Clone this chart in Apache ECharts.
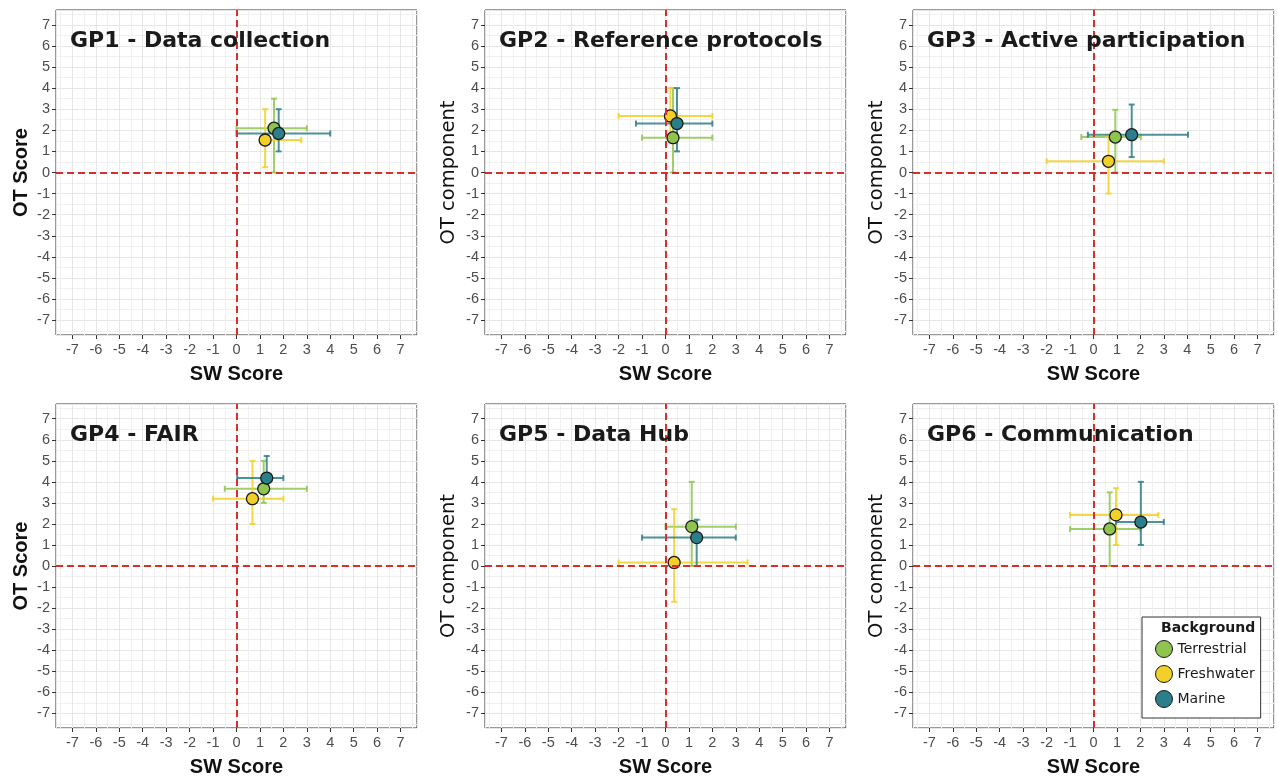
<!DOCTYPE html>
<html>
<head>
<meta charset="utf-8">
<script src="https://cdn.jsdelivr.net/npm/echarts@6/dist/echarts.min.js"></script>
<style>
  html, body { margin: 0; padding: 0; background: #fff; }
  #chart { width: 1278px; height: 778px; }
</style>
</head>
<body>
<div id="chart"></div>
<script>
var groups = ['Terrestrial', 'Freshwater', 'Marine'];
var groupColors = ['#8fc54f', '#f2d027', '#2b7f8a'];

var panelTitles = ['GP1 - Data collection', 'GP2 - Reference protocols', 'GP3 - Active participation',
                   'GP4 - FAIR', 'GP5 - Data Hub', 'GP6 - Communication'];
var yTitles = ['OT Score', 'OT component', 'OT component', 'OT Score', 'OT component', 'OT component'];
var xTitle = 'SW Score';

var tickValues = [-7, -6, -5, -4, -3, -2, -1, 0, 1, 2, 3, 4, 5, 6, 7];

// per panel, per group (Terrestrial, Freshwater, Marine): [x, y, xLow, xHigh, yLow, yHigh]
var gp1 = [[1.60, 2.10, 0.00, 3.00, 0.00, 3.50], [1.22, 1.54, 1.10, 2.76, 0.25, 3.00], [1.80, 1.85, 0.00, 4.00, 1.00, 3.00]];
var gp2 = [[0.32, 1.65, -1.00, 2.00, 0.00, 4.00], [0.21, 2.68, -2.00, 2.00, 1.70, 4.00], [0.49, 2.32, -1.26, 2.00, 1.00, 4.00]];
var gp3 = [[0.93, 1.68, -0.52, 2.02, 0.00, 2.97], [0.64, 0.53, -2.00, 3.00, -1.00, 1.70], [1.63, 1.79, -0.24, 4.03, 0.73, 3.22]];
var gp4 = [[1.16, 3.67, -0.50, 3.00, 3.00, 5.00], [0.68, 3.20, -1.00, 2.00, 2.00, 5.00], [1.29, 4.18, 0.03, 2.00, 3.70, 5.23]];
var gp5 = [[1.12, 1.87, 0.00, 3.00, 0.00, 4.00], [0.37, 0.17, -2.00, 3.50, -1.70, 2.70], [1.33, 1.35, -1.00, 3.00, 0.00, 2.20]];
var gp6 = [[0.69, 1.76, -1.00, 2.00, 0.00, 3.50], [0.96, 2.43, -1.00, 2.77, 1.00, 3.70], [2.02, 2.09, 0.96, 3.00, 1.00, 4.00]];
var panelData = [gp1, gp2, gp3, gp4, gp5, gp6];

var myChart = echarts.init(document.getElementById('chart'));

var gridLefts = [56, 485, 913];
var gridTops = [10, 404];
var gridW = 361, gridH = 325;

// cross-shaped error bars with small caps
function renderErrorBar(params, api) {
    var x = api.value(0), y = api.value(1);
    var xl = api.coord([api.value(2), y]);
    var xh = api.coord([api.value(3), y]);
    var yl = api.coord([x, api.value(4)]);
    var yh = api.coord([x, api.value(5)]);
    var cap = 3;
    var color = api.visual('color');
    function seg(x1, y1, x2, y2) {
        return { type: 'line', shape: { x1: x1, y1: y1, x2: x2, y2: y2 },
                 style: { stroke: color, lineWidth: 2, opacity: 0.85 } };
    }
    return {
        type: 'group',
        children: [
            seg(xl[0], xl[1], xh[0], xh[1]),
            seg(xl[0], xl[1] - cap, xl[0], xl[1] + cap),
            seg(xh[0], xh[1] - cap, xh[0], xh[1] + cap),
            seg(yl[0], yl[1], yh[0], yh[1]),
            seg(yl[0] - cap, yl[1], yl[0] + cap, yl[1]),
            seg(yh[0] - cap, yh[1], yh[0] + cap, yh[1])
        ]
    };
}

function tickFormatter(v) {
    return tickValues.indexOf(v) >= 0 ? String(v) : '';
}

function valueAxis(i, isX) {
    var ax = {
        type: 'value',
        gridIndex: i,
        min: -7.7,
        max: 7.7,
        splitNumber: 15,
        axisLine: { show: false, onZero: false },
        axisTick: { show: true, length: 4, lineStyle: { color: '#333', width: 1 } },
        axisLabel: {
            formatter: tickFormatter,
            showMinLabel: false,
            showMaxLabel: false,
            color: '#4d4d4d',
            fontFamily: 'Liberation Sans',
            fontSize: 14.5,
            margin: isX ? 7 : 6
        },
        splitLine: { show: true, lineStyle: { color: '#e6e6e6', width: 1 } },
        minorTick: { show: false, splitNumber: 2 },
        minorSplitLine: { show: true, lineStyle: { color: '#f0f0f0', width: 1 } },
        nameLocation: 'middle'
    };
    if (isX) {
        ax.name = xTitle;
        ax.nameGap = 29;
        ax.nameTextStyle = { fontFamily: 'Liberation Sans', fontWeight: 'bold', fontSize: 20, color: '#111' };
    } else {
        ax.name = yTitles[i];
        var bold = yTitles[i] === 'OT Score';
        ax.nameGap = bold ? 25 : 26;
        ax.nameTextStyle = bold
            ? { fontFamily: 'Liberation Sans', fontWeight: 'bold', fontSize: 20, color: '#111' }
            : { fontFamily: 'DejaVu Sans', fontWeight: 'normal', fontSize: 19.5, color: '#111' };
    }
    return ax;
}

var grids = [], xAxes = [], yAxes = [], titles = [], series = [];

for (var i = 0; i < 6; i++) {
    var gLeft = gridLefts[i % 3];
    var gTop = gridTops[Math.floor(i / 3)];
    grids.push({ left: gLeft, top: gTop, width: gridW, height: gridH, show: true,
                 borderColor: '#333', borderWidth: 1, backgroundColor: '#fff' });
    xAxes.push(valueAxis(i, true));
    yAxes.push(valueAxis(i, false));
    titles.push({
        text: panelTitles[i],
        left: gLeft + 14,
        top: gTop + 19,
        padding: 0,
        textStyle: { fontFamily: 'DejaVu Sans', fontWeight: 'bold', fontSize: 22, lineHeight: 24, color: '#1a1a1a' }
    });

    // dashed zero lines
    series.push({
        type: 'line',
        name: 'zero' + i,
        xAxisIndex: i,
        yAxisIndex: i,
        data: [],
        z: 2,
        markLine: {
            silent: true,
            symbol: 'none',
            label: { show: false },
            lineStyle: { color: '#d62f2c', width: 2, type: [7, 4] },
            data: [{ xAxis: 0 }, { yAxis: 0 }]
        }
    });

    for (var g = 0; g < groups.length; g++) {
        series.push({
            type: 'custom',
            name: groups[g] + ' error ' + i,
            xAxisIndex: i,
            yAxisIndex: i,
            renderItem: renderErrorBar,
            itemStyle: { color: groupColors[g] },
            encode: { x: [0, 2, 3], y: [1, 4, 5] },
            data: [panelData[i][g]],
            z: 3,
            silent: true
        });
    }
    for (var g2 = 0; g2 < groups.length; g2++) {
        series.push({
            type: 'scatter',
            name: groups[g2],
            xAxisIndex: i,
            yAxisIndex: i,
            symbol: 'circle',
            symbolSize: 12,
            itemStyle: { color: groupColors[g2], borderColor: '#1a1a1a', borderWidth: 1.3, opacity: 1 },
            data: [[panelData[i][g2][0], panelData[i][g2][1]]],
            z: 4
        });
    }
}

var option = {
    animation: false,
    title: titles,
    grid: grids,
    xAxis: xAxes,
    yAxis: yAxes,
    legend: {
        data: groups,
        orient: 'vertical',
        left: 1142,
        top: 617,
        padding: [23, 6, 10, 13],
        itemWidth: 17,
        itemHeight: 17,
        itemGap: 7,
        icon: 'circle',
        itemStyle: { borderWidth: 1 },
        backgroundColor: '#fff',
        borderColor: '#333',
        borderWidth: 1,
        textStyle: { fontFamily: 'DejaVu Sans', fontSize: 14, color: '#1a1a1a' }
    },
    graphic: [{
        type: 'text',
        left: 1161,
        top: 621,
        z: 100,
        style: { text: 'Background', fontFamily: 'DejaVu Sans', fontWeight: 'bold', fontSize: 14, fill: '#1a1a1a' }
    }],
    series: series
};

myChart.setOption(option);
</script>
</body>
</html>
